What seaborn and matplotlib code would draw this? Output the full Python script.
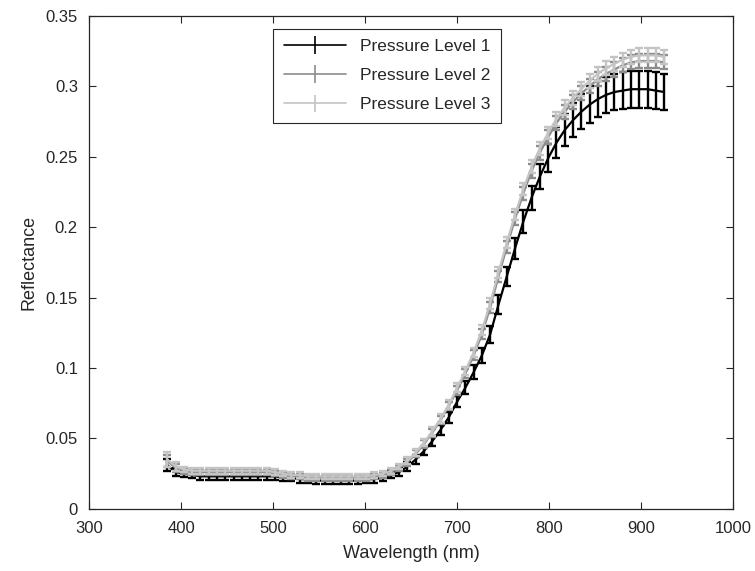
import numpy as np
import pandas as pd
import matplotlib
matplotlib.use("Agg")
import matplotlib.pyplot as plt
import seaborn as sns

wavelength = [385, 394, 403, 412, 421, 430, 439, 448, 457, 466, 475, 484, 493, 502, 511,
              520, 529, 538, 547, 556, 565, 574, 583, 592, 601, 610, 619, 628, 637, 646,
              655, 664, 673, 682, 691, 700, 709, 718, 727, 736, 745, 754, 763, 772, 781,
              790, 799, 808, 817, 826, 835, 844, 853, 862, 871, 880, 889, 898, 907, 916, 925]

level1 = [0.031, 0.026, 0.025, 0.024, 0.023, 0.023, 0.023, 0.023, 0.023, 0.023, 0.023, 0.023,
          0.023, 0.023, 0.022, 0.022, 0.021, 0.021, 0.020, 0.020, 0.020, 0.020, 0.020, 0.020,
          0.021, 0.021, 0.022, 0.024, 0.026, 0.030, 0.035, 0.041, 0.048, 0.056, 0.065, 0.076,
          0.086, 0.097, 0.109, 0.124, 0.145, 0.165, 0.185, 0.204, 0.221, 0.236, 0.249, 0.260,
          0.269, 0.276, 0.282, 0.287, 0.291, 0.294, 0.296, 0.297, 0.298, 0.298, 0.298, 0.297, 0.296]
err1 = [0.004, 0.003, 0.0025, 0.0025, 0.0025, 0.0025, 0.0025, 0.0025, 0.0025, 0.0025, 0.0025,
        0.0025, 0.0025, 0.0025, 0.0025, 0.0025, 0.0025, 0.0025, 0.0025, 0.0025, 0.0025, 0.0025,
        0.0025, 0.0025, 0.0025, 0.0025, 0.0025, 0.0025, 0.003, 0.003, 0.003, 0.003, 0.0035,
        0.0035, 0.004, 0.004, 0.0045, 0.005, 0.0055, 0.006, 0.0065, 0.007, 0.0075, 0.008,
        0.0085, 0.009, 0.010, 0.011, 0.0115, 0.012, 0.0125, 0.013, 0.013, 0.013, 0.013, 0.013,
        0.013, 0.013, 0.013, 0.013, 0.013]

level2 = [0.034, 0.029, 0.027, 0.026, 0.026, 0.026, 0.026, 0.026, 0.026, 0.026, 0.026, 0.026,
          0.026, 0.025, 0.024, 0.023, 0.023, 0.022, 0.022, 0.022, 0.022, 0.022, 0.022, 0.022,
          0.022, 0.023, 0.024, 0.026, 0.029, 0.033, 0.039, 0.046, 0.054, 0.063, 0.073, 0.084,
          0.096, 0.109, 0.124, 0.143, 0.165, 0.186, 0.206, 0.224, 0.240, 0.253, 0.264, 0.274,
          0.282, 0.289, 0.295, 0.300, 0.305, 0.309, 0.312, 0.315, 0.317, 0.318, 0.318, 0.318, 0.317]
err2 = [0.004, 0.003, 0.002, 0.002, 0.002, 0.002, 0.002, 0.002, 0.002, 0.002, 0.002, 0.002,
        0.002, 0.002, 0.002, 0.002, 0.002, 0.002, 0.002, 0.002, 0.002, 0.002, 0.002, 0.002,
        0.002, 0.002, 0.002, 0.002, 0.002, 0.0025, 0.0025, 0.0025, 0.003, 0.003, 0.003, 0.003,
        0.003, 0.0035, 0.0035, 0.004, 0.004, 0.004, 0.0045, 0.0045, 0.005, 0.005, 0.005, 0.005,
        0.005, 0.005, 0.005, 0.005, 0.005, 0.005, 0.005, 0.005, 0.005, 0.005, 0.005, 0.005, 0.005]

level3 = [0.035, 0.030, 0.028, 0.027, 0.027, 0.027, 0.027, 0.027, 0.027, 0.027, 0.027, 0.027,
          0.027, 0.026, 0.025, 0.024, 0.024, 0.023, 0.023, 0.023, 0.023, 0.023, 0.023, 0.023,
          0.023, 0.024, 0.025, 0.027, 0.030, 0.034, 0.040, 0.047, 0.055, 0.064, 0.074, 0.086,
          0.098, 0.111, 0.127, 0.146, 0.168, 0.189, 0.209, 0.227, 0.243, 0.256, 0.267, 0.277,
          0.285, 0.292, 0.298, 0.304, 0.309, 0.313, 0.316, 0.319, 0.321, 0.322, 0.322, 0.322, 0.321]
err3 = [0.005, 0.003, 0.002, 0.002, 0.002, 0.002, 0.002, 0.002, 0.002, 0.002, 0.002, 0.002,
        0.002, 0.002, 0.002, 0.002, 0.002, 0.002, 0.002, 0.002, 0.002, 0.002, 0.002, 0.002,
        0.002, 0.002, 0.002, 0.002, 0.002, 0.0025, 0.0025, 0.0025, 0.003, 0.003, 0.003, 0.003,
        0.003, 0.0035, 0.0035, 0.004, 0.004, 0.004, 0.004, 0.0045, 0.0045, 0.0045, 0.0045, 0.005,
        0.005, 0.005, 0.005, 0.005, 0.005, 0.005, 0.005, 0.005, 0.005, 0.005, 0.005, 0.005, 0.005]

labels = ["Pressure Level 1", "Pressure Level 2", "Pressure Level 3"]
colors = ["#000000", "#8c8c8c", "#c4c4c4"]

sns.set_theme(style="white")
plt.rcParams["font.family"] = ["Liberation Sans", "DejaVu Sans"]

fig = plt.figure(figsize=(7.55, 5.71), dpi=100)
ax = fig.add_axes([0.118, 0.109, 0.853, 0.863])

series = [level1, level2, level3]
errs = [err1, err2, err3]
handles = []
for vals, err, lab, col in zip(series, errs, labels, colors):
    df = pd.DataFrame({"Wavelength": wavelength, "Reflectance": vals})
    sns.lineplot(data=df, x="Wavelength", y="Reflectance", color=col, lw=1.6,
                 ax=ax, legend=False, errorbar=None)
    ax.errorbar(wavelength, vals, yerr=err, fmt="none", ecolor=col,
                elinewidth=1.7, capsize=3, capthick=1.7)
    h = ax.errorbar([], [], yerr=[], fmt="-", color=col, lw=1.2,
                    elinewidth=1.2, capsize=7, capthick=1.2, label=lab)
    handles.append(h)

ax.set_xlim(300, 1000)
ax.set_ylim(0, 0.35)
ax.set_xticks([300, 400, 500, 600, 700, 800, 900, 1000])
yt = [0, 0.05, 0.1, 0.15, 0.2, 0.25, 0.3, 0.35]
ax.set_yticks(yt)
ax.set_yticklabels(["0", "0.05", "0.1", "0.15", "0.2", "0.25", "0.3", "0.35"])
ax.set_xlabel("Wavelength (nm)", fontsize=13, color="#262626", labelpad=6)
ax.set_ylabel("Reflectance", fontsize=13, color="#262626", labelpad=6)
ax.tick_params(direction="in", length=5, width=0.8, colors="#262626",
               labelsize=12, top=True, right=True, bottom=True, left=True)
ax.tick_params(axis="x", pad=9)
ax.tick_params(axis="y", pad=8)
for sp in ax.spines.values():
    sp.set_visible(True)
    sp.set_color("#262626")
    sp.set_linewidth(0.9)

leg = ax.legend(handles=handles, labels=labels, loc="upper center",
                bbox_to_anchor=(0.463, 0.992), fontsize=12.5, frameon=True,
                fancybox=False, edgecolor="#262626", framealpha=1,
                handlelength=3.6, handletextpad=0.8, borderpad=0.6,
                labelspacing=0.8)
leg.get_frame().set_linewidth(0.8)

fig.savefig("out.png", dpi=100)
